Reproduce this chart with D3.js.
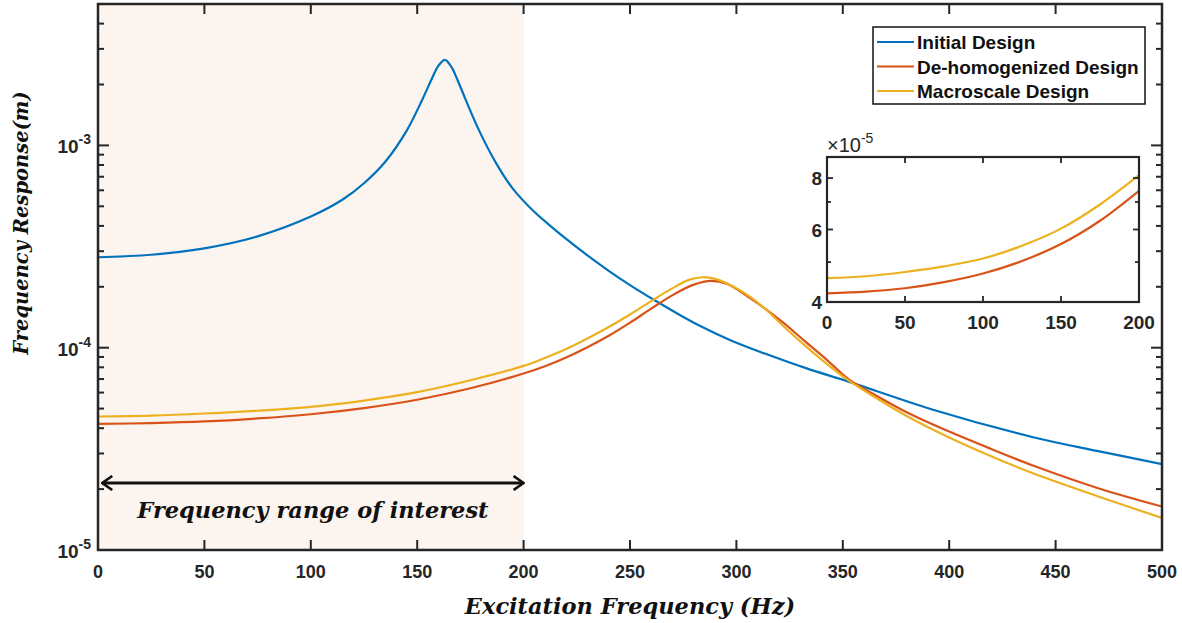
<!DOCTYPE html>
<html>
<head>
<meta charset="utf-8">
<script src="https://cdn.jsdelivr.net/npm/d3@7"></script>
<style>
  body { margin: 0; background: #fff; }
  svg { display: block; }
</style>
</head>
<body>
<div id="chart"></div>
<script>
// Frequenzgang dreier Designs

const seriesNames = ["Initial Design", "De-homogenized Design", "Macroscale Design"];
const seriesColors = ["#0072BD", "#D95319", "#EDB120"];

// Initial Design
const initialFreq = [0, 25, 50, 75, 100, 115, 125, 135, 145, 152, 157, 160, 163, 166, 169, 173, 179, 187, 195, 205, 212, 220, 230, 240, 250, 261, 272, 283, 298, 314, 333, 353, 392, 439, 470, 500];
const initialResp = [2.80e-4, 2.88e-4, 3.10e-4, 3.55e-4, 4.45e-4, 5.4e-4, 6.5e-4, 8.3e-4, 1.18e-3, 1.65e-3, 2.15e-3, 2.48e-3, 2.65e-3, 2.45e-3, 2.10e-3, 1.66e-3, 1.19e-3, 8.2e-4, 6.1e-4, 4.7e-4, 4.05e-4, 3.45e-4, 2.86e-4, 2.40e-4, 2.04e-4, 1.73e-4, 1.48e-4, 1.28e-4, 1.08e-4, 9.3e-5, 7.9e-5, 6.78e-5, 4.95e-5, 3.62e-5, 3.08e-5, 2.66e-5];

// De-homogenized Design
const dehomFreq = [0, 25, 50, 75, 100, 125, 150, 175, 200, 210, 220, 230, 240, 250, 260, 270, 280, 288, 296, 304, 312, 322, 332, 342, 353, 365, 380, 400, 420, 440, 470, 500];
const dehomResp = [4.20e-5, 4.24e-5, 4.32e-5, 4.47e-5, 4.69e-5, 5.03e-5, 5.53e-5, 6.30e-5, 7.45e-5, 8.1e-5, 8.95e-5, 1.005e-4, 1.145e-4, 1.33e-4, 1.56e-4, 1.82e-4, 2.05e-4, 2.14e-4, 2.06e-4, 1.83e-4, 1.60e-4, 1.33e-4, 1.08e-4, 8.8e-5, 6.95e-5, 5.85e-5, 4.8e-5, 3.85e-5, 3.15e-5, 2.6e-5, 2.02e-5, 1.64e-5];

// Macroscale Design
const macroFreq = [0, 25, 50, 75, 100, 125, 150, 175, 200, 210, 220, 230, 240, 250, 260, 270, 278, 284, 290, 298, 306, 314, 322, 332, 342, 353, 365, 380, 400, 420, 440, 470, 500];
const macroResp = [4.57e-5, 4.62e-5, 4.73e-5, 4.88e-5, 5.10e-5, 5.48e-5, 6.03e-5, 6.90e-5, 8.13e-5, 8.9e-5, 9.85e-5, 1.11e-4, 1.265e-4, 1.46e-4, 1.70e-4, 1.97e-4, 2.17e-4, 2.23e-4, 2.19e-4, 2.02e-4, 1.80e-4, 1.54e-4, 1.28e-4, 1.03e-4, 8.4e-5, 6.85e-5, 5.7e-5, 4.6e-5, 3.6e-5, 2.9e-5, 2.38e-5, 1.84e-5, 1.44e-5];

const xTicks = [0, 50, 100, 150, 200, 250, 300, 350, 400, 450, 500];
const yDecades = [1e-5, 1e-4, 1e-3];
const shadedRange = [0, 200];
const arrowRange = [2, 200];
const insetXTicks = [0, 50, 100, 150, 200];
const insetYTicks = [4e-5, 6e-5, 8e-5];
const insetYMinor = [5e-5, 7e-5, 9e-5];

const series = [
  { name: seriesNames[0], color: seriesColors[0], data: d3.zip(initialFreq, initialResp) },
  { name: seriesNames[1], color: seriesColors[1], data: d3.zip(dehomFreq, dehomResp) },
  { name: seriesNames[2], color: seriesColors[2], data: d3.zip(macroFreq, macroResp) }
];

const width = 1182, height = 623;
const margin = { top: 4, right: 20, bottom: 73, left: 98 };
const axisColor = "#262626";
const sans = "'Liberation Sans', Arial, sans-serif";
const serif = "'DejaVu Serif', serif";

const svg = d3.select("#chart").append("svg")
  .attr("width", width).attr("height", height);

// Skalen
const x = d3.scaleLinear().domain([0, 500]).range([margin.left, width - margin.right]);
const y = d3.scaleLog().domain([1e-5, 5e-3]).range([height - margin.bottom, margin.top]);

const defs = svg.append("defs");
defs.append("clipPath").attr("id", "clipMain").append("rect")
  .attr("x", x(0)).attr("y", y(5e-3)).attr("width", x(500) - x(0)).attr("height", y(1e-5) - y(5e-3));

// Markierter Bereich
svg.append("rect")
  .attr("x", x(shadedRange[0])).attr("y", y(5e-3))
  .attr("width", x(shadedRange[1]) - x(shadedRange[0]))
  .attr("height", y(1e-5) - y(5e-3))
  .attr("fill", "#fcf4ef");

// Linien
const line = d3.line()
  .x(d => x(d[0]))
  .y(d => y(d[1]))
  .curve(d3.curveCatmullRom.alpha(0.5));

svg.append("g").attr("clip-path", "url(#clipMain)")
  .selectAll("path").data(series).join("path")
  .attr("fill", "none")
  .attr("stroke", d => d.color)
  .attr("stroke-width", 2.2)
  .attr("d", d => line(d.data));

// Achsen-Ticks (nach innen, auf allen Seiten)
const axes = svg.append("g").attr("stroke", axisColor);
xTicks.forEach(t => {
  axes.append("line").attr("x1", x(t)).attr("x2", x(t))
    .attr("y1", y(1e-5)).attr("y2", y(1e-5) - 10).attr("stroke-width", 2);
  axes.append("line").attr("x1", x(t)).attr("x2", x(t))
    .attr("y1", y(5e-3)).attr("y2", y(5e-3) + 10).attr("stroke-width", 2);
});
const yMinor = [];
yDecades.forEach(dec => {
  for (let k = 2; k <= 9; k++) if (dec * k <= 5e-3) yMinor.push(dec * k);
});
yMinor.forEach(t => {
  [[x(0), 6], [x(500), -6]].forEach(([x0, len]) => {
    axes.append("line").attr("x1", x0).attr("x2", x0 + len)
      .attr("y1", y(t)).attr("y2", y(t)).attr("stroke-width", 2);
  });
});
yDecades.forEach(t => {
  [[x(0), 11], [x(500), -11]].forEach(([x0, len]) => {
    axes.append("line").attr("x1", x0).attr("x2", x0 + len)
      .attr("y1", y(t)).attr("y2", y(t)).attr("stroke-width", 2);
  });
});

// Rahmen
svg.append("rect")
  .attr("x", x(0)).attr("y", y(5e-3))
  .attr("width", x(500) - x(0)).attr("height", y(1e-5) - y(5e-3))
  .attr("fill", "none").attr("stroke", axisColor).attr("stroke-width", 2.5);

// Tick-Beschriftungen
svg.append("g").selectAll("text").data(xTicks).join("text")
  .attr("x", d => x(d)).attr("y", y(1e-5) + 28)
  .attr("text-anchor", "middle")
  .attr("font-family", sans).attr("font-weight", "bold").attr("font-size", 18)
  .attr("fill", axisColor)
  .text(d => d);

const yLab = svg.append("g").selectAll("text").data(yDecades).join("text")
  .attr("x", x(0) - 7).attr("y", d => y(d) + 8)
  .attr("text-anchor", "end")
  .attr("font-family", sans).attr("font-weight", "bold").attr("font-size", 19)
  .attr("fill", axisColor);
yLab.append("tspan").text("10");
yLab.append("tspan").attr("dy", -9).attr("font-size", 14)
  .text(d => "-" + Math.round(-Math.log10(d)));

// Achsentitel
svg.append("text")
  .attr("x", (x(0) + x(500)) / 2).attr("y", 614)
  .attr("text-anchor", "middle")
  .attr("font-family", serif).attr("font-style", "italic").attr("font-weight", "bold")
  .attr("font-size", 22.5).attr("fill", "#111")
  .text("Excitation Frequency (Hz)");

svg.append("text")
  .attr("transform", `translate(28,${223}) rotate(-90)`)
  .attr("text-anchor", "middle")
  .attr("font-family", serif).attr("font-style", "italic").attr("font-weight", "bold")
  .attr("font-size", 19.5).attr("fill", "#111")
  .text("Frequency Response(m)");

// Doppelpfeil
defs.append("marker")
  .attr("id", "arrowHead")
  .attr("viewBox", "0 0 12 16")
  .attr("refX", 11).attr("refY", 8)
  .attr("markerWidth", 12).attr("markerHeight", 16)
  .attr("markerUnits", "userSpaceOnUse")
  .attr("orient", "auto-start-reverse")
  .append("path")
  .attr("d", "M1,1 L11,8 L1,15")
  .attr("fill", "none").attr("stroke", "#111").attr("stroke-width", 2.6);

const arrowY = 483;
svg.append("line")
  .attr("x1", x(arrowRange[0])).attr("x2", x(arrowRange[1]))
  .attr("y1", arrowY).attr("y2", arrowY)
  .attr("stroke", "#111").attr("stroke-width", 3)
  .attr("marker-start", "url(#arrowHead)")
  .attr("marker-end", "url(#arrowHead)");

svg.append("text")
  .attr("x", (x(arrowRange[0]) + x(arrowRange[1])) / 2).attr("y", 518)
  .attr("text-anchor", "middle")
  .attr("font-family", serif).attr("font-style", "italic").attr("font-weight", "bold")
  .attr("font-size", 22.5).attr("fill", "#111")
  .text("Frequency range of interest");

// Legende
const legend = svg.append("g").attr("transform", "translate(873,27)");
legend.append("rect")
  .attr("width", 272).attr("height", 77)
  .attr("fill", "#fff").attr("stroke", "#111").attr("stroke-width", 1.5);
const rows = legend.selectAll("g.row").data(series).join("g")
  .attr("class", "row")
  .attr("transform", (d, i) => `translate(0,${15 + i * 24.5})`);
rows.append("line")
  .attr("x1", 4).attr("x2", 41)
  .attr("stroke", d => d.color).attr("stroke-width", 2.2);
rows.append("text")
  .attr("x", 44).attr("y", 7)
  .attr("font-family", sans).attr("font-weight", "bold").attr("font-size", 19)
  .attr("fill", "#111")
  .text(d => d.name);

// Inset (0-200 Hz)
const ix = d3.scaleLinear().domain([0, 200]).range([827, 1139]);
const iy = d3.scaleLog().domain([4e-5, 9e-5]).range([302, 157]);

defs.append("clipPath").attr("id", "clipInset").append("rect")
  .attr("x", ix(0)).attr("y", iy(9e-5)).attr("width", ix(200) - ix(0)).attr("height", iy(4e-5) - iy(9e-5));

const inset = svg.append("g");
inset.append("rect")
  .attr("x", ix(0)).attr("y", iy(9e-5))
  .attr("width", ix(200) - ix(0)).attr("height", iy(4e-5) - iy(9e-5))
  .attr("fill", "#fff");

const iline = d3.line()
  .x(d => ix(d[0]))
  .y(d => iy(d[1]))
  .curve(d3.curveCatmullRom.alpha(0.5));

inset.append("g").attr("clip-path", "url(#clipInset)")
  .selectAll("path").data(series.slice(1)).join("path")
  .attr("fill", "none")
  .attr("stroke", d => d.color)
  .attr("stroke-width", 2.2)
  .attr("d", d => iline(d.data.filter(p => p[0] <= 200)));

const iticks = inset.append("g").attr("stroke", axisColor).attr("stroke-width", 1.8);
insetXTicks.forEach(t => {
  iticks.append("line").attr("x1", ix(t)).attr("x2", ix(t))
    .attr("y1", iy(4e-5)).attr("y2", iy(4e-5) - 6);
  iticks.append("line").attr("x1", ix(t)).attr("x2", ix(t))
    .attr("y1", iy(9e-5)).attr("y2", iy(9e-5) + 6);
});
insetYTicks.concat(insetYMinor).forEach(t => {
  const len = insetYTicks.includes(t) ? 6 : 4;
  iticks.append("line").attr("x1", ix(0)).attr("x2", ix(0) + len)
    .attr("y1", iy(t)).attr("y2", iy(t));
  iticks.append("line").attr("x1", ix(200)).attr("x2", ix(200) - len)
    .attr("y1", iy(t)).attr("y2", iy(t));
});

inset.append("rect")
  .attr("x", ix(0)).attr("y", iy(9e-5))
  .attr("width", ix(200) - ix(0)).attr("height", iy(4e-5) - iy(9e-5))
  .attr("fill", "none").attr("stroke", axisColor).attr("stroke-width", 2.2);

inset.append("g").selectAll("text").data(insetXTicks).join("text")
  .attr("x", d => ix(d)).attr("y", iy(4e-5) + 27)
  .attr("text-anchor", "middle")
  .attr("font-family", sans).attr("font-weight", "bold").attr("font-size", 19)
  .attr("fill", axisColor)
  .text(d => d);

inset.append("g").selectAll("text").data(insetYTicks).join("text")
  .attr("x", ix(0) - 5).attr("y", d => iy(d) + 7)
  .attr("text-anchor", "end")
  .attr("font-family", sans).attr("font-weight", "bold").attr("font-size", 19)
  .attr("fill", axisColor)
  .text(d => Math.round(d * 1e5));

const expo = inset.append("text")
  .attr("x", ix(0)).attr("y", iy(9e-5) - 5)
  .attr("font-family", sans).attr("font-size", 20)
  .attr("fill", axisColor);
expo.append("tspan").text("\u00d710");
expo.append("tspan").attr("dy", -9).attr("font-size", 14).text("-5");
</script>
</body>
</html>
